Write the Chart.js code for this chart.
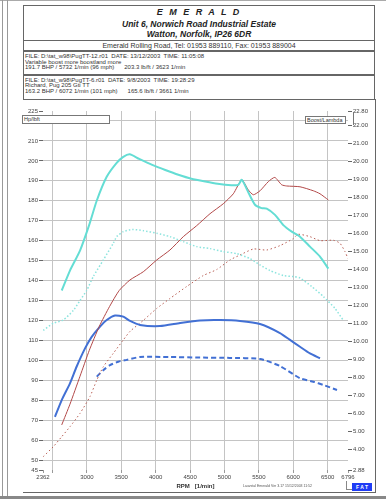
<!DOCTYPE html>
<html>
<head>
<meta charset="utf-8">
<script src="https://cdn.jsdelivr.net/npm/chart.js@4/dist/chart.umd.min.js"></script>
<style>
  body { margin: 0; width: 386px; height: 499px; background: #fff; position: relative; overflow: hidden;
         font-family: Arial, "Liberation Sans", sans-serif; color: #333; }
  .abs { position: absolute; }
  .box { position: absolute; box-sizing: border-box; border: 1px solid #666; }
  .ctr { position: absolute; left: 23px; width: 352px; text-align: center; white-space: nowrap; }
  .head { font-weight: bold; font-style: italic; color: #222; }
  .info { position: absolute; left: 25px; font-size: 6px; line-height: 5.6px; white-space: pre; color: #333; }
  .tag { position: absolute; box-sizing: border-box; border: 1px solid #777; background: #fff;
         font-size: 5.5px; line-height: 6px; padding-left: 1px; white-space: nowrap; color: #333; }
  #wrap { position: absolute; left: 23px; top: 99px; width: 352px; height: 393px; }
</style>
</head>
<body>
<!-- page frame -->
<div class="abs" style="left:0;top:0;width:386px;height:1px;background:#aaa"></div>
<div class="abs" style="left:2px;top:0;width:1px;height:499px;background:#999"></div>
<div class="abs" style="left:7px;top:0;width:1px;height:499px;background:#999"></div>
<div class="abs" style="left:0;top:496px;width:386px;height:3px;background:#888"></div>

<!-- header -->
<div class="box" style="left:23px;top:5px;width:352px;height:46px"></div>
<div class="ctr head" style="top:7px;font-size:9px;line-height:10px;letter-spacing:2px">E M E R A L D</div>
<div class="ctr head" style="top:19px;font-size:8.5px;line-height:10px">Unit 6, Norwich Road Industrial Estate</div>
<div class="ctr head" style="top:29px;font-size:8.5px;line-height:10px">Watton, Norfolk, IP26 6DR</div>
<div class="abs" style="left:23px;top:40px;width:352px;height:1px;background:#666"></div>
<div class="ctr" style="top:42px;font-size:7px;line-height:8px">Emerald Rolling Road, Tel: 01953 889110, Fax: 01953 889004</div>

<div class="box" style="left:23px;top:51px;width:352px;height:24px"></div>
<div class="info" style="top:54px">FILE: D:\tat_w98\PugTT-12.r01  DATE: 13/12/2003  TIME: 11:05:08
Variable boost more boostland more
191.7 BHP / 5732 1/min (96 mph)      203.3 lb/ft / 3623 1/min</div>

<div class="box" style="left:23px;top:75px;width:352px;height:25px"></div>
<div class="info" style="top:77.5px">FILE: D:\tat_w98\PugTT-6.r01  DATE: 9/8/2003  TIME: 19:28:29
Richard, Pug 205 Gti TT
163.2 BHP / 6072 1/min (101 mph)      165.6 lb/ft / 3661 1/min</div>

<!-- chart frame -->
<div class="abs" style="left:375px;top:99px;width:1px;height:394px;background:#666"></div>
<div class="abs" style="left:23px;top:492px;width:353px;height:1px;background:#666"></div>

<div id="wrap"><canvas id="dyno" width="352" height="393"></canvas></div>

<div class="tag" style="left:22px;top:115px;width:88px;height:9px">Hp/lbft</div>
<div class="tag" style="left:305px;top:116px;width:41px;height:8px">Boost/Lambda</div>
<div class="abs" style="left:353px;top:112px;width:1px;height:13px;background:#777"></div>

<div class="abs" style="left:243px;top:484px;font-size:3.5px;color:#555;white-space:nowrap">Lauvstal Emerald  Ver 3.17   15/12/2003 11:52</div>
<div class="abs" style="left:346px;top:481px;width:1px;height:9px;background:#888"></div>
<div class="abs" style="left:346px;top:489px;width:6px;height:1px;background:#888"></div>
<div class="abs" style="left:352px;top:483px;width:20px;height:8px;background:#1f3cf5;color:#fff;font-size:5px;line-height:8px;text-align:center;font-weight:bold">F A T</div>

<script>
// run 1: PugTT-12 (variable boost)
const rpmTq1 = [2634, 2754, 2900, 3035, 3143, 3288, 3433, 3529, 3623, 3760, 3950, 4140, 4330, 4520, 4720, 4900, 5100, 5200, 5252, 5350, 5444, 5540, 5614, 5735, 5856, 5978, 6098, 6243, 6389, 6510];
const torque1 = [135, 145, 155, 168, 180, 192, 199, 202, 203.3, 201, 198, 195.4, 193, 191, 189.6, 188.5, 187.8, 188, 190.5, 184, 178, 176.3, 176, 172.9, 167.8, 164.5, 162, 157, 152, 146];

const rpmPw1 = [2634, 2754, 2900, 3035, 3180, 3330, 3470, 3627, 3820, 4015, 4208, 4402, 4596, 4790, 4983, 5129, 5252, 5347, 5420, 5517, 5638, 5732, 5832, 5905, 6098, 6292, 6389, 6510];
const power1 = [67.6, 78, 92, 105, 117, 127, 135, 140.3, 144.4, 150.3, 155.3, 162, 167.5, 173.5, 178.5, 183.5, 190.5, 185.4, 183, 185, 189.6, 191.7, 188, 187.4, 187, 185, 183.5, 180.4];

const rpmBoost1 = [2536, 2634, 2754, 2850, 2973, 3070, 3191, 3288, 3409, 3529, 3627, 3772, 4063, 4354, 4644, 4935, 5226, 5517, 5807, 5953, 6098, 6243, 6389];
const boost1 = [5.83, 6.76, 7.69, 8.61, 9.63, 10.27, 10.84, 11.2, 11.45, 11.39, 11.15, 10.93, 10.87, 11.04, 11.18, 11.2, 11.15, 10.98, 10.48, 10.1, 9.72, 9.35, 9.08];

// run 2: PugTT-6
const rpmTq2 = [2366, 2512, 2657, 2803, 2900, 2997, 3093, 3239, 3384, 3433, 3529, 3661, 3820, 4015, 4208, 4402, 4596, 4790, 4983, 5178, 5371, 5517, 5662, 5856, 5999, 6098, 6268, 6437, 6607, 6728];
const torque2 = [115, 118.6, 120.2, 125, 130, 135, 142, 150.3, 158.7, 162, 164.5, 165.6, 165, 163.7, 162, 159.5, 157, 156, 154.5, 153.5, 151, 147.8, 145, 142.5, 142, 141.3, 137, 132, 126, 120];

const rpmPw2 = [2366, 2512, 2634, 2754, 2900, 3045, 3143, 3239, 3384, 3529, 3627, 3820, 4015, 4208, 4451, 4692, 4887, 5080, 5226, 5420, 5614, 5807, 5999, 6072, 6243, 6389, 6582, 6679, 6752, 6796];
const power2 = [51.7, 56.7, 61.7, 66.7, 73.4, 81.8, 90, 96.8, 103.5, 110.2, 114.5, 120, 126, 131, 137, 142.5, 145.5, 150.3, 152.8, 155.8, 155.3, 157.5, 161, 163.2, 162, 160, 160.2, 158.7, 154.5, 151];

const rpmBoost2 = [3143, 3239, 3336, 3457, 3579, 3772, 4208, 4644, 5080, 5517, 5807, 6098, 6292, 6437, 6636];
const boost2 = [8.06, 8.42, 8.7, 8.89, 8.99, 9.15, 9.15, 9.12, 9.1, 9.04, 8.65, 7.97, 7.78, 7.6, 7.32];

// axes
const xTicks = [2362, 2500, 3000, 3500, 4000, 4500, 5000, 5500, 6000, 6500, 6796];
const yTicks = [45, 50, 60, 70, 80, 90, 100, 110, 120, 130, 140, 150, 160, 170, 180, 190, 200, 210, 220, 225];
const boostTicks = [2.88, 4, 5, 6, 7, 8, 9, 10, 11, 12, 13, 14, 15, 16, 17, 18, 19, 20, 21, 22, 22.8];

const fam = 'Arial, "Liberation Sans", sans-serif';
const pts = (xs, ys) => xs.map((x, i) => ({ x: x, y: ys[i] }));
const tickFont = { size: 6, family: fam };

new Chart(document.getElementById('dyno'), {
  type: 'line',
  data: {
    datasets: [
      { data: pts(rpmTq1, torque1), yAxisID: 'y', borderColor: 'rgb(100,221,212)', borderWidth: 2 },
      { data: pts(rpmPw1, power1), yAxisID: 'y', borderColor: 'rgb(178,72,72)', borderWidth: 1 },
      { data: pts(rpmBoost1, boost1), yAxisID: 'y1', borderColor: 'rgb(66,112,212)', borderWidth: 2 },
      { data: pts(rpmTq2, torque2), yAxisID: 'y', borderColor: 'rgb(140,228,222)', borderWidth: 1.5, borderDash: [1.5, 2] },
      { data: pts(rpmPw2, power2), yAxisID: 'y', borderColor: 'rgb(185,95,85)', borderWidth: 1, borderDash: [1.5, 2.5] },
      { data: pts(rpmBoost2, boost2), yAxisID: 'y1', borderColor: 'rgb(66,112,212)', borderWidth: 2, borderDash: [5, 3] },
    ],
  },
  options: {
    responsive: false,
    animation: false,
    layout: { padding: { top: 12, left: 0, right: 0, bottom: 0 } },
    elements: {
      point: { radius: 0 },
      line: { tension: 0.2, fill: false },
    },
    plugins: {
      legend: { display: false },
      tooltip: { enabled: false },
    },
    scales: {
      x: {
        type: 'linear',
        min: 2362,
        max: 6796,
        afterBuildTicks: (s) => { s.ticks = xTicks.map((v) => ({ value: v })); },
        afterFit: (s) => { s.height = 22; },
        border: { display: false },
        grid: {
          color: (c) => (c.tick && (c.tick.value === 2362 || c.tick.value === 6796)) ? 'rgba(0,0,0,0)' : '#c4c4c4',
          tickColor: '#999',
          tickLength: 3,
        },
        ticks: {
          autoSkip: false,
          maxRotation: 0,
          padding: 1,
          color: '#444',
          font: tickFont,
          callback: (v) => (v === 2500 ? '' : String(v)),
        },
        title: {
          display: true,
          text: 'RPM   [1/min]',
          color: '#333',
          font: { size: 6, weight: 'bold', family: fam },
          padding: { top: 0, bottom: 2 },
        },
      },
      y: {
        position: 'left',
        min: 45,
        max: 225,
        afterBuildTicks: (s) => { s.ticks = yTicks.map((v) => ({ value: v })); },
        afterFit: (s) => { s.width = 20; },
        border: { display: false },
        grid: {
          color: (c) => (c.tick && (c.tick.value === 45 || c.tick.value === 225)) ? 'rgba(0,0,0,0)' : '#c4c4c4',
          tickColor: '#666',
          tickLength: 4,
        },
        ticks: {
          autoSkip: false,
          padding: 1,
          color: '#444',
          font: tickFont,
          callback: (v) => (v === 220 ? '' : String(v)),
        },
      },
      y1: {
        position: 'right',
        min: 2.88,
        max: 22.8,
        afterBuildTicks: (s) => { s.ticks = boostTicks.map((v) => ({ value: v })); },
        afterFit: (s) => { s.width = 27; },
        border: { display: false },
        grid: {
          drawOnChartArea: false,
          tickColor: '#666',
          tickLength: 4,
        },
        ticks: {
          autoSkip: false,
          padding: 1,
          color: '#444',
          font: tickFont,
          callback: (v) => v.toFixed(2),
        },
      },
    },
  },
});
</script>
</body>
</html>
